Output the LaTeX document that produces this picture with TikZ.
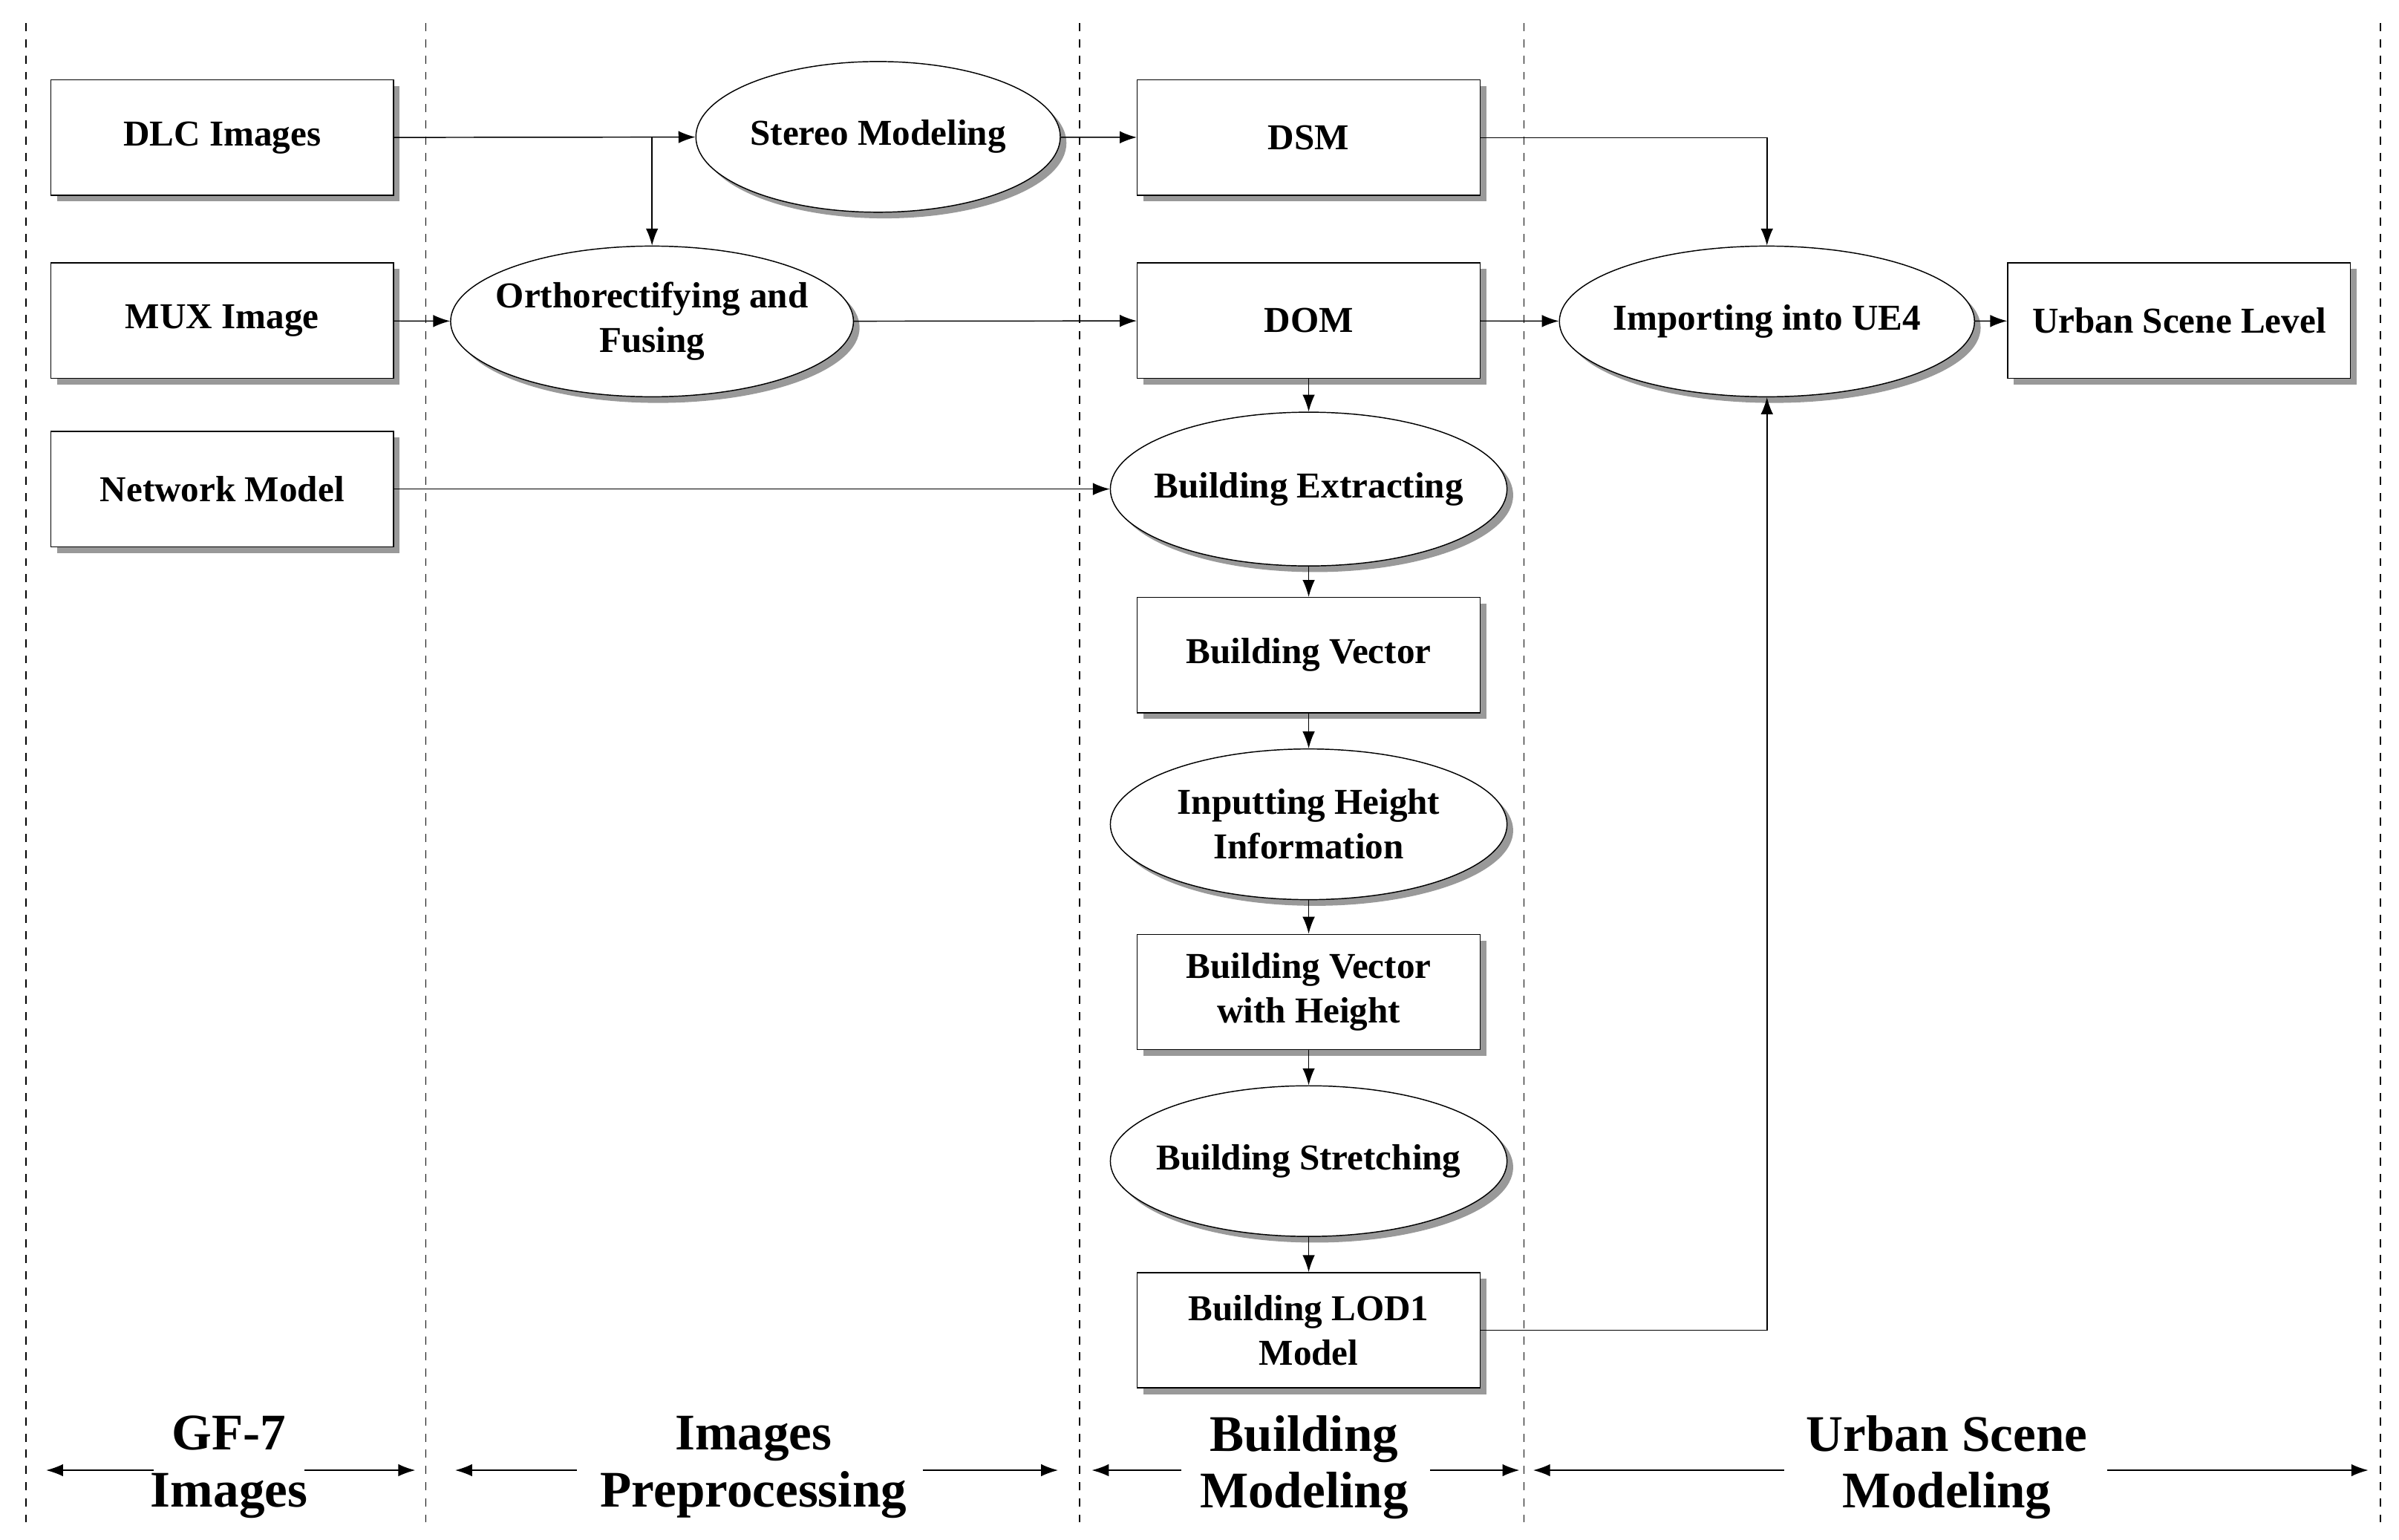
\documentclass[tikz,border=0pt]{standalone}
\usepackage{fontspec}
\setmainfont{Liberation Serif}
\usetikzlibrary{positioning, shapes.geometric, arrows.meta, shadows}

\tikzset{
  box/.style={draw, fill=white, thin, minimum width=4.46cm, minimum height=1.5cm,
    align=center, font=\fontsize{13.5}{16.5}\selectfont\bfseries,
    drop shadow={shadow xshift=0.08cm, shadow yshift=-0.08cm, fill=black!40, opacity=1}},
  oval/.style={box, ellipse, inner sep=-8pt},
  arr/.style={-{Latex[length=2.2mm, width=1.6mm]}, thin},
  lane/.style={dashed, thin},
  part/.style={align=center, font=\fontsize{19}{21}\selectfont\bfseries}
}

\begin{document}
\begin{tikzpicture}[x=0.02cm, y=-0.02cm]
      \useasboundingbox (0,0) rectangle (1560,1001);

      % lanes
      \foreach \lx in {17, 277, 702, 991, 1548}
        \draw[lane] (\lx,15) -- (\lx,990);

      % inputs
      \node[box] (dlc) at (144.5,89.5) {DLC Images};
      \node[box] (mux) at (144.5,208.5) {MUX Image};
      \node[box] (net) at (144.5,318) {Network Model};

      % preprocessing
      \node[oval, minimum width=4.74cm, minimum height=1.96cm] (stereo) at (571,89) {Stereo Modeling};
      \node[oval, minimum width=5.24cm, minimum height=1.96cm] (ortho) at (424,209) {Orthorectifying and\\Fusing};

      % building modeling
      \node[box] (dsm) at (851,89.5) {DSM};
      \node[box] (dom) at (851,208.5) {DOM};
      \node[oval, minimum width=5.16cm, minimum height=2cm] (extract) at (851,318) {Building Extracting};
      \node[box] (vector) at (851,426) {Building Vector};
      \node[oval, minimum width=5.16cm, minimum height=1.96cm] (height) at (851,536) {Inputting Height\\Information};
      \node[box] (vheight) at (851,645) {Building Vector\\with Height};
      \node[oval, minimum width=5.16cm, minimum height=1.96cm] (stretch) at (851,755) {Building Stretching};
      \node[box] (lod) at (851,865) {Building LOD1\\Model};

      % urban scene
      \node[oval, minimum width=5.4cm, minimum height=1.96cm] (ue) at (1149,209) {Importing into UE4};
      \node[box] (level) at (1417,208.5) {Urban Scene Level};

      % connectors
      \coordinate (split) at (424,89.5);
      \draw[arr] (dlc) -- (stereo);
      \draw[arr] (split) -- (ortho);
      \draw[arr] (mux) -- (ortho);
      \draw[arr] (stereo) -- (dsm);
      \draw[arr] (ortho) -- (dom);
      \draw[arr] (net) -- (extract);
      \draw[arr] (dom) -- (extract);
      \draw[arr] (extract) -- (vector);
      \draw[arr] (vector) -- (height);
      \draw[arr] (height) -- (vheight);
      \draw[arr] (vheight) -- (stretch);
      \draw[arr] (stretch) -- (lod);
      \draw[arr] (dsm) -| (ue);
      \draw[arr] (lod) -| (ue);
      \draw[arr] (dom) -- (ue);
      \draw[arr] (ue) -- (level);

      % stage labels
      \node[part] (gf) at (149,954) {GF-7\\Images};
      \node[part] (pre) at (490,954) {Images\\Preprocessing};
      \node[part] (bm) at (848,954) {Building\\Modeling};
      \node[part] (usm) at (1266,954) {Urban Scene\\Modeling};
      \coordinate (gfL) at (30,956);   \coordinate (gfR) at (270,956);
      \coordinate (preL) at (296,956); \coordinate (preR) at (688,956);
      \coordinate (bmL) at (710,956);  \coordinate (bmR) at (988,956);
      \coordinate (usmL) at (997,956); \coordinate (usmR) at (1540,956);
      \draw[arr] (100,956) -- (gfL);   \draw[arr] (198,956) -- (gfR);
      \draw[arr] (375,956) -- (preL);  \draw[arr] (600,956) -- (preR);
      \draw[arr] (768,956) -- (bmL);   \draw[arr] (930,956) -- (bmR);
      \draw[arr] (1160,956) -- (usmL); \draw[arr] (1370,956) -- (usmR);
\end{tikzpicture}
\end{document}
